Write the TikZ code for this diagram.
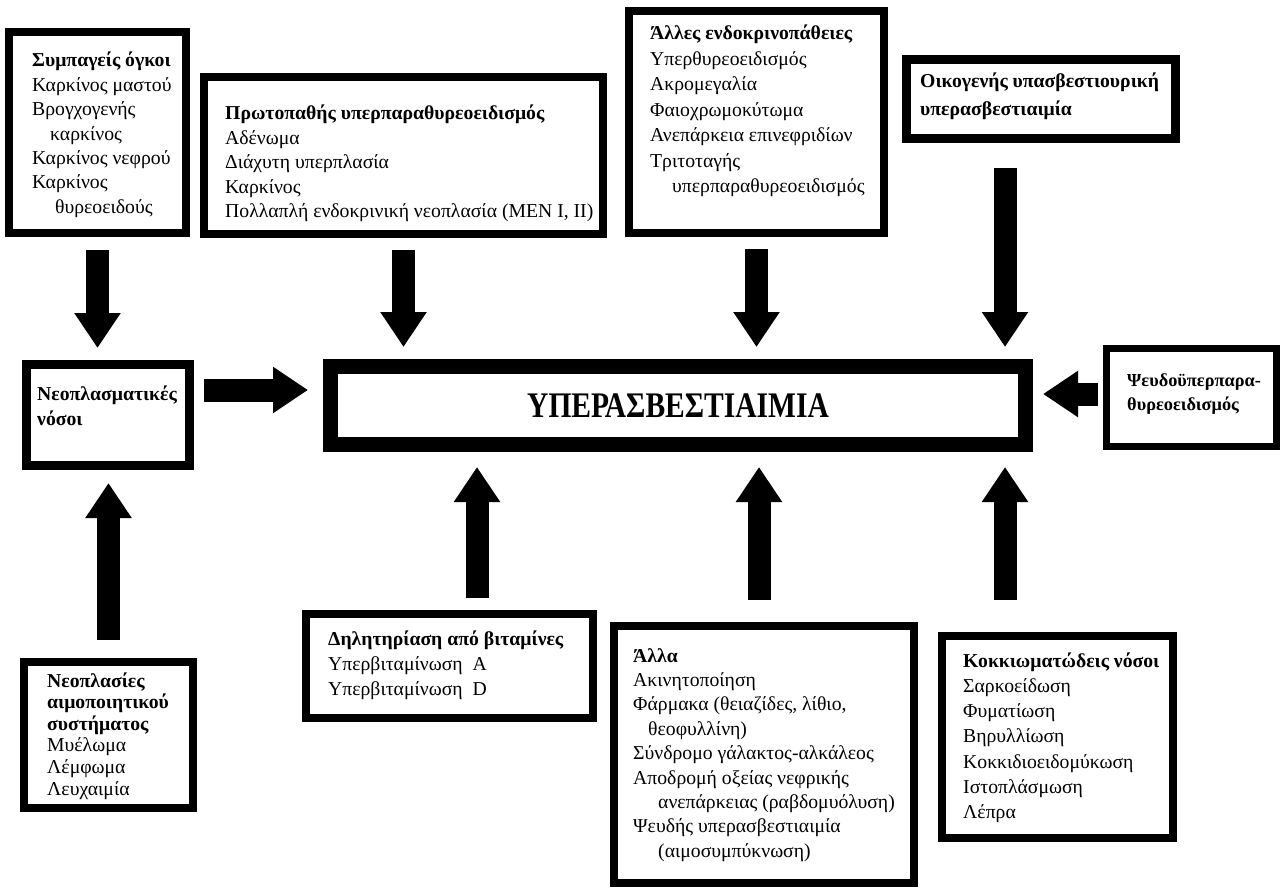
\documentclass[tikz,border=0pt]{standalone}
\usepackage{fontspec}
\usepackage{graphicx}
\setmainfont{Liberation Serif}
\usetikzlibrary{arrows.meta}
\newcommand{\boxlines}[1]{\begin{tabular}[t]{@{}l@{}}#1\end{tabular}}
\begin{document}
\begin{tikzpicture}[x=1pt,y=-1pt,
  box/.style={draw=black, fill=white, inner sep=0pt, line width=#1},
  box/.default=8pt,
  txt/.style={anchor=base west, inner sep=0pt, font=\fontsize{19.7}{#1}\selectfont},
  txt/.default=24.4pt,
  bigarrow/.style={line width=23pt, -{Triangle[width=44pt,length=35pt]}}]
\useasboundingbox (0,0) rectangle (1286,888);

% boxes
\node[box, minimum width=177pt, minimum height=201pt] (b1) at (97.5,132.5) {};
\node[box, minimum width=399pt, minimum height=157pt] (b2) at (403.5,155.5) {};
\node[box, minimum width=255pt, minimum height=222pt] (b3) at (756.5,122) {};
\node[box=9pt, minimum width=269pt, minimum height=79pt] (b4) at (1041,99) {};
\node[box=9pt, minimum width=163pt, minimum height=101pt] (neo) at (108,415) {};
\node[box=15pt, minimum width=695pt, minimum height=78pt, font=\bfseries\fontsize{36}{40}\selectfont] (main) at (678,405.5) {\scalebox{0.82}[1]{ΥΠΕΡΑΣΒΕΣΤΙΑΙΜΙΑ}};
\node[box=7pt, minimum width=170pt, minimum height=98pt] (ps) at (1191.5,397.5) {};
\node[box, minimum width=169pt, minimum height=146pt] (hem) at (108.5,735) {};
\node[box, minimum width=287pt, minimum height=104pt] (vit) at (449.5,666) {};
\node[box, minimum width=300pt, minimum height=257pt] (oth) at (764,754.5) {};
\node[box, minimum width=231pt, minimum height=202pt] (gran) at (1057.5,737) {};

% texts
\node[txt] (t1) at (32,67) {\boxlines{\textbf{Συμπαγείς όγκοι}\\Καρκίνος μαστού\\Βρογχογενής\\\hspace*{18pt}καρκίνος\\Καρκίνος νεφρού\\Καρκίνος\\\hspace*{23pt}θυρεοειδούς}};
\node[txt] (t2) at (225,120) {\boxlines{\textbf{Πρωτοπαθής υπερπαραθυρεοειδισμός}\\Αδένωμα\\Διάχυτη υπερπλασία\\Καρκίνος\\Πολλαπλή ενδοκρινική νεοπλασία (MEN I, II)}};
\node[txt=25.5pt] (t3) at (650,40) {\boxlines{\textbf{Άλλες ενδοκρινοπάθειες}\\Υπερθυρεοειδισμός\\Ακρομεγαλία\\Φαιοχρωμοκύτωμα\\Ανεπάρκεια επινεφριδίων\\Τριτοταγής\\\hspace*{22pt}υπερπαραθυρεοειδισμός}};
\node[txt=28pt] (t4) at (920,88) {\boxlines{\bfseries Οικογενής υπασβεστιουρική\\\bfseries υπερασβεστιαιμία}};
\node[txt=25pt] (tneo) at (37,400) {\boxlines{\bfseries Νεοπλασματικές\\\bfseries νόσοι}};
\node[anchor=base west, inner sep=0pt, font=\fontsize{18.3}{24pt}\selectfont] (tps) at (1127,386) {\boxlines{\bfseries Ψευδοϋπερπαρα-\\\bfseries θυρεοειδισμός}};
\node[txt=21.6pt] (thm) at (47,687) {\boxlines{\textbf{Νεοπλασίες}\\\textbf{αιμοποιητικού}\\\textbf{συστήματος}\\Μυέλωμα\\Λέμφωμα\\Λευχαιμία}};
\node[txt=25pt] (tvit) at (328,645) {\boxlines{\textbf{Δηλητηρίαση από βιταμίνες}\\Υπερβιταμίνωση\ \ A\\Υπερβιταμίνωση\ \ D}};
\node[txt] (toth) at (633,662) {\boxlines{\textbf{Άλλα}\\Ακινητοποίηση\\Φάρμακα (θειαζίδες, λίθιο,\\\hspace*{15pt}θεοφυλλίνη)\\Σύνδρομο γάλακτος-αλκάλεος\\Αποδρομή οξείας νεφρικής\\\hspace*{25pt}ανεπάρκειας (ραβδομυόλυση)\\Ψευδής υπερασβεστιαιμία\\\hspace*{25pt}(αιμοσυμπύκνωση)}};
\node[txt=25.3pt] (tgran) at (963,667) {\boxlines{\textbf{Κοκκιωματώδεις νόσοι}\\Σαρκοείδωση\\Φυματίωση\\Βηρυλλίωση\\Κοκκιδιοειδομύκωση\\Ιστοπλάσμωση\\Λέπρα}};

% arrows
\draw[bigarrow, shorten <=13pt, shorten >=12pt] (b1.south) -- (b1.south |- neo.north);
\draw[bigarrow, shorten <=12pt, shorten >=12pt] (b2.south) -- (b2.south |- main.north);
\draw[bigarrow, shorten <=12pt, shorten >=12pt] (b3.south) -- (b3.south |- main.north);
\draw[bigarrow, shorten <=25pt, shorten >=12pt] ([xshift=-36pt]b4.south) -- ([xshift=-36pt]b4.south |- main.north);
\draw[bigarrow, shorten <=10pt, shorten >=15pt] ([yshift=25pt]neo.east) -- ([yshift=25pt]neo.east -| main.west);
\draw[bigarrow, shorten <=5pt, shorten >=10pt] ([yshift=3.5pt]ps.west) -- ([yshift=3.5pt]ps.west -| main.east);
\draw[bigarrow, shorten <=12pt, shorten >=15pt] ([xshift=27.5pt]vit.north) -- ([xshift=27.5pt]vit.north |- main.south);
\draw[bigarrow, shorten <=22pt, shorten >=15pt] ([xshift=-5pt]oth.north) -- ([xshift=-5pt]oth.north |- main.south);
\draw[bigarrow, shorten <=32pt, shorten >=15pt] ([xshift=-52.5pt]gran.north) -- ([xshift=-52.5pt]gran.north |- main.south);
\draw[bigarrow, shorten <=18pt, shorten >=13pt] (hem.north) -- (hem.north |- neo.south);
\end{tikzpicture}
\end{document}
